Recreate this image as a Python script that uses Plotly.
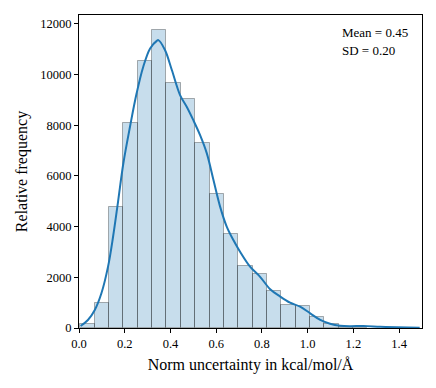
# Histogram of norm uncertainty with KDE overlay

import numpy as np
import plotly.graph_objects as go

# histogram bins (20 bins)
bin_start = 0.0055
bin_width = 0.0628
counts = [150, 1000, 4790, 8100, 10530, 11770, 9650, 9020, 7310, 5290,
          3710, 2460, 2120, 1470, 910, 880, 450, 160, 40, 20]

# KDE curve
kde_x = [0.007, 0.039, 0.069, 0.098, 0.127, 0.149, 0.171, 0.194, 0.223, 0.252,
         0.281, 0.311, 0.340, 0.347, 0.376, 0.406, 0.442, 0.471, 0.500, 0.530,
         0.559, 0.588, 0.617, 0.646, 0.675, 0.705, 0.748, 0.792, 0.836, 0.880,
         0.923, 0.967, 1.011, 1.055, 1.098, 1.142, 1.186, 1.244, 1.317, 1.39, 1.49]
kde_y = [80, 315, 710, 1370, 2420, 3600, 5000, 6500, 7940, 9260,
         10310, 11030, 11330, 11360, 10970, 10180, 9190, 8730, 8200, 7600,
         6890, 5840, 4790, 4000, 3470, 3000, 2420, 2020, 1530, 1240,
         1000, 840, 580, 320, 170, 90, 70, 80, 50, 30, 10]

mean_text = 'Mean = 0.45'
sd_text = 'SD = 0.20'

centers = bin_start + bin_width * (np.arange(len(counts)) + 0.5)

font = 'Liberation Serif, Times New Roman, serif'

fig = go.Figure()
fig.add_trace(go.Bar(
    x=centers, y=counts, width=bin_width,
    marker=dict(color='rgba(31,119,180,0.25)',
                line=dict(color='rgba(0,0,0,0.3)', width=1)),
    showlegend=False
))
fig.add_trace(go.Scatter(
    x=kde_x, y=kde_y, mode='lines', line_shape='spline',
    line={'color': '#1f77b4', 'width': 2}, showlegend=False
))

fig.add_annotation(x=0.762, y=0.945, xref='paper', yref='paper', text=mean_text,
                   showarrow=False, xanchor='left', yanchor='middle',
                   font=dict(size=13, color='black', family=font))
fig.add_annotation(x=0.762, y=0.885, xref='paper', yref='paper', text=sd_text,
                   showarrow=False, xanchor='left', yanchor='middle',
                   font=dict(size=13, color='black', family=font))

axis_common = dict(showline=True, linecolor='black', linewidth=1, mirror=True,
                   ticks='outside', ticklen=4, tickcolor='black', showgrid=False,
                   zeroline=False, automargin=False,
                   tickfont=dict(size=12.5, color='black', family=font))

fig.update_xaxes(range=[0, 1.5], tickvals=[0, 0.2, 0.4, 0.6, 0.8, 1.0, 1.2, 1.4],
                 tickformat='.1f', title=dict(text='Norm uncertainty in kcal/mol/Å',
                 font=dict(size=16, color='black', family=font), standoff=8),
                 **axis_common)
fig.update_yaxes(range=[0, 12350], tickvals=list(range(0, 12001, 2000)),
                 tickformat='d', title=dict(text='Relative frequency',
                 font=dict(size=16, color='black', family=font), standoff=8),
                 **axis_common)

# page body has an 8px margin, so the figure is a bit smaller than the window
fig.update_layout(
    width=420, height=372,
    margin=dict(l=71, r=6, t=7, b=52),
    plot_bgcolor='white', paper_bgcolor='white',
    bargap=0,
    font=dict(family=font, color='black')
)

fig.write_html('out.html')
